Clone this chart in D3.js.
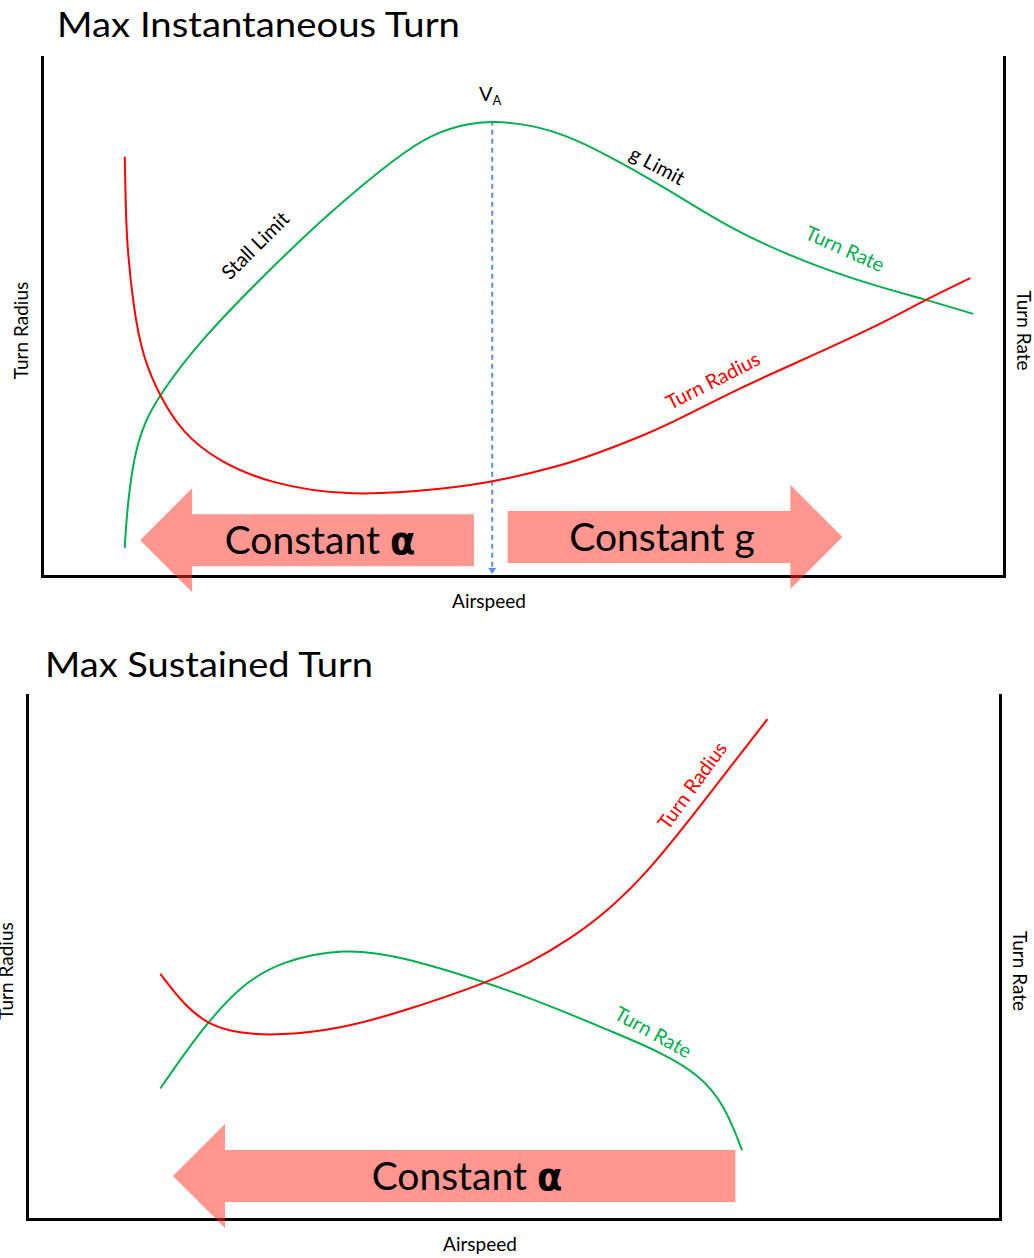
<!DOCTYPE html>
<meta charset="utf-8">
<style>
  body { margin: 0; background: #fff; }
  text { font-family: Lato, "Open Sans", sans-serif; }
</style>
<body id="chart"></body>
<script src="https://cdn.jsdelivr.net/npm/d3@7"></script>
<script>
// chart values, airspeed and turn numbers on a 0-100 scale
var topRateSpeed  = [8.6, 8.8, 9.5, 10.7, 12.3, 16.4, 23.4, 30.2, 37.2, 40.6, 44.2, 46.8, 51.0, 54.6, 58.0, 61.4, 65.0, 68.4, 72.6, 79.5, 86.4, 91.6, 96.8];
var topRate       = [5.4, 12.0, 22.8, 29.9, 35.1, 45.3, 58.6, 70.6, 81.2, 85.2, 87.2, 87.7, 86.9, 84.8, 81.8, 78.4, 74.5, 70.6, 66.0, 60.3, 56.0, 53.4, 50.5];
var topRadiusSpeed = [8.6, 8.7, 8.8, 9.5, 10.5, 12.3, 14.7, 18.2, 23.4, 32.0, 42.4, 46.6, 53.8, 58.0, 63.2, 66.3, 72.6, 79.5, 86.4, 91.6, 96.5];
var topRadius      = [80.8, 72.2, 64.5, 51.6, 42.0, 34.4, 27.4, 22.3, 17.9, 15.2, 16.9, 18.0, 21.1, 23.8, 27.6, 30.3, 36.3, 42.0, 47.8, 53.0, 57.4];
var vA = 46.8;

var botRateSpeed  = [13.7, 17.8, 21.9, 26.0, 32.7, 38.3, 47.3, 53.8, 59.9, 65.1, 69.2, 71.7, 73.5];
var botRate       = [24.9, 35.9, 44.5, 49.2, 51.7, 50.2, 45.1, 40.7, 35.9, 31.9, 27.4, 21.7, 13.1];
var botRadiusSpeed = [13.7, 16.2, 18.8, 21.9, 26.0, 32.2, 38.3, 47.3, 51.7, 55.8, 59.9, 64.0, 68.1, 72.3, 76.1];
var botRadius      = [46.8, 40.7, 36.9, 35.4, 35.0, 36.3, 39.4, 45.1, 48.9, 53.4, 59.1, 66.7, 76.2, 86.3, 95.4];

var titles = ["Max Instantaneous Turn", "Max Sustained Turn"];

var width = 1034, height = 1258;
var red = "#ff0000", green = "#00b050", arrowFill = "#ff2d20";

var svg = d3.select("#chart").append("svg")
    .attr("width", width)
    .attr("height", height);

function panel(opt) {
  var x = d3.scaleLinear().domain([0, 100]).range([opt.left, opt.right]);
  var y = d3.scaleLinear().domain([0, 100]).range([opt.bottom, opt.top]);
  var g = svg.append("g");

  // title
  g.append("text")
    .attr("x", opt.titleX).attr("y", opt.titleY)
    .attr("font-size", 34)
    .attr("textLength", opt.titleW).attr("lengthAdjust", "spacingAndGlyphs")
    .text(opt.title);

  // axes with no ticks, just the frame lines
  var axL = g.append("g").attr("transform", "translate(" + opt.left + ",0)")
    .call(d3.axisLeft(y).tickValues([]).tickSizeOuter(0));
  var axR = g.append("g").attr("transform", "translate(" + opt.right + ",0)")
    .call(d3.axisRight(y).tickValues([]).tickSizeOuter(0));
  var axB = g.append("g").attr("transform", "translate(0," + opt.bottom + ")")
    .call(d3.axisBottom(x).tickValues([]).tickSizeOuter(0));
  [axL, axR, axB].forEach(function(a){
    a.select(".domain").attr("stroke", "#000").attr("stroke-width", 3).attr("stroke-linecap", "square");
  });

  // axis labels
  var midY = (opt.top + opt.bottom) / 2 + 14;
  g.append("text")
    .attr("transform", "translate(" + (opt.left - 14) + "," + midY + ") rotate(-90)")
    .attr("text-anchor", "middle").attr("font-size", 19)
    .text("Turn Radius");
  g.append("text")
    .attr("transform", "translate(" + (opt.right + 13) + "," + midY + ") rotate(90)")
    .attr("text-anchor", "middle").attr("font-size", 19)
    .text("Turn Rate");
  g.append("text")
    .attr("x", opt.airX).attr("y", opt.bottom + 32)
    .attr("text-anchor", "middle").attr("font-size", 19)
    .text("Airspeed");

  return {g: g, x: x, y: y};
}

function drawLine(p, xs, ys, color) {
  var line = d3.line()
    .x(function(d){ return p.x(d[0]); })
    .y(function(d){ return p.y(d[1]); })
    .curve(d3.curveBasis);
  p.g.append("path")
    .datum(d3.zip(xs, ys))
    .attr("fill", "none")
    .attr("stroke", color)
    .attr("stroke-width", 2)
    .attr("d", line);
}

function label(p, txt, v, u, rot, color) {
  p.g.append("text")
    .attr("transform", "translate(" + p.x(v) + "," + p.y(u) + ") rotate(" + rot + ")")
    .attr("text-anchor", "middle")
    .attr("dominant-baseline", "central")
    .attr("font-size", 20)
    .attr("fill", color)
    .text(txt);
}

// block arrow from tail (v0) to tip (v1) at height u
function arrow(p, v0, v1, u, txt, tx) {
  var x0 = p.x(v0), x1 = p.x(v1), cy = p.y(u);
  var dir = x1 > x0 ? 1 : -1;
  var hb = 26, hh = 52, hl = 52;
  var xn = x1 - dir * hl;
  var pts = [[x0, cy - hb], [xn, cy - hb], [xn, cy - hh], [x1, cy], [xn, cy + hh], [xn, cy + hb], [x0, cy + hb]];
  p.g.append("path")
    .attr("d", "M" + pts.join("L") + "Z")
    .attr("fill", arrowFill)
    .attr("fill-opacity", 0.5);
  var t = p.g.append("text")
    .attr("x", tx).attr("y", cy + 14)
    .attr("text-anchor", "middle")
    .attr("font-size", 39);
  if (txt === "alpha") {
    t.append("tspan").text("Constant ");
    t.append("tspan").attr("font-weight", "bold").attr("font-family", "DejaVu Sans").attr("font-size", 37).text("\u03b1");
  } else {
    t.text(txt);
  }
}

// ---- top panel
var p1 = panel({left: 42, right: 1004, top: 57, bottom: 576, title: titles[0],
  titleX: 57, titleY: 37, titleW: 403, airX: 489});

// V_A dashed marker
p1.g.append("line")
  .attr("x1", p1.x(vA)).attr("x2", p1.x(vA))
  .attr("y1", p1.y(87.7)).attr("y2", p1.y(0) - 6)
  .attr("stroke", "#5b8fdd").attr("stroke-width", 2)
  .attr("stroke-dasharray", "5,4");
p1.g.append("path")
  .attr("d", "M" + (p1.x(vA) - 4) + "," + (p1.y(0) - 8) + "L" + (p1.x(vA) + 4) + "," + (p1.y(0) - 8) + "L" + p1.x(vA) + "," + (p1.y(0) - 2) + "Z")
  .attr("fill", "#5b8fdd");
var va = p1.g.append("text")
  .attr("x", p1.x(vA) - 2).attr("y", 101)
  .attr("text-anchor", "middle").attr("font-size", 20);
va.append("tspan").text("V");
va.append("tspan").attr("font-size", 13).attr("dy", 4).text("A");

drawLine(p1, topRateSpeed, topRate, green);
drawLine(p1, topRadiusSpeed, topRadius, red);

label(p1, "Stall Limit", 22.1, 63.8, -45, "#000");
label(p1, "g Limit", 64.0, 79.2, 28, "#000");
label(p1, "Turn Rate", 83.5, 63.2, 24, green);
label(p1, "Turn Radius", 69.7, 37.8, -27, red);

arrow(p1, 44.9, 10.2, 6.9, "alpha", 320);
arrow(p1, 48.4, 83.2, 7.5, "Constant g", 662);

// ---- bottom panel
var p2 = panel({left: 27, right: 1000, top: 695, bottom: 1219, title: titles[1],
  titleX: 45, titleY: 677, titleW: 328, airX: 480});

drawLine(p2, botRateSpeed, botRate, green);
drawLine(p2, botRadiusSpeed, botRadius, red);

label(p2, "Turn Radius", 68.3, 82.8, -54, red);
label(p2, "Turn Rate", 64.4, 35.8, 29, green);

arrow(p2, 72.8, 15.0, 8.2, "alpha", 467);
</script>
